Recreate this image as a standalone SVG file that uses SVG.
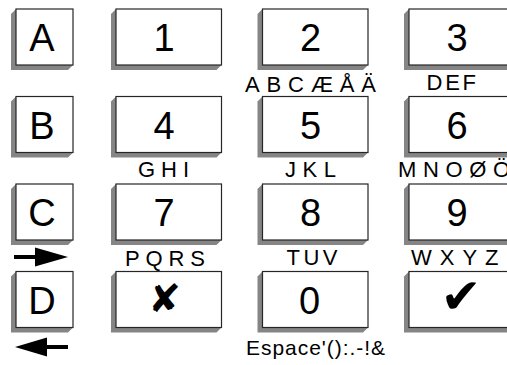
<svg xmlns="http://www.w3.org/2000/svg" width="507" height="365" viewBox="0 0 507 365">
<style>
.sh{fill:#858585}
.bx{fill:#fff;stroke:#262626;stroke-width:1.2}
.k{font-family:"Liberation Sans",Arial,sans-serif;font-size:38px;fill:#000;text-anchor:middle}
.l{font-family:"Liberation Sans",Arial,sans-serif;font-size:22px;fill:#000}
.sym{font-family:"DejaVu Sans",sans-serif;fill:#000;text-anchor:middle}
.ar{fill:#000}
</style>
<rect width="507" height="365" fill="#fff"/>
<g id="key-A"><polygon class="sh" points="16,9 11,14 11,70 68,70 73,65"/><rect class="bx" x="16" y="9" width="57" height="56"/><text class="k" x="42" y="51">A</text></g>
<g id="key-B"><polygon class="sh" points="16,96.5 11,101.5 11,157.5 68,157.5 73,152.5"/><rect class="bx" x="16" y="96.5" width="57" height="56"/><text class="k" x="42" y="138.5">B</text></g>
<g id="key-C"><polygon class="sh" points="16,184 11,189 11,245 68,245 73,240"/><rect class="bx" x="16" y="184" width="57" height="56"/><text class="k" x="42" y="226">C</text></g>
<g id="key-D"><polygon class="sh" points="16,271.5 11,276.5 11,332.5 68,332.5 73,327.5"/><rect class="bx" x="16" y="271.5" width="57" height="56"/><text class="k" x="42" y="313.5">D</text></g>

<g id="key-1"><polygon class="sh" points="116,9 111,14 111,70 216.5,70 221.5,65"/><rect class="bx" x="116" y="9" width="105.5" height="56"/><text class="k" x="164" y="51">1</text></g>
<g id="key-2"><polygon class="sh" points="262.5,9 257.5,14 257.5,70 363,70 368,65"/><rect class="bx" x="262.5" y="9" width="105.5" height="56"/><text class="k" x="310.5" y="51">2</text></g>
<g id="key-3"><polygon class="sh" points="409,9 404,14 404,70 509.5,70 514.5,65"/><rect class="bx" x="409" y="9" width="105.5" height="56"/><text class="k" x="457" y="51">3</text></g>

<g id="key-4"><polygon class="sh" points="116,96.5 111,101.5 111,157.5 216.5,157.5 221.5,152.5"/><rect class="bx" x="116" y="96.5" width="105.5" height="56"/><text class="k" x="164" y="138.5">4</text></g>
<g id="key-5"><polygon class="sh" points="262.5,96.5 257.5,101.5 257.5,157.5 363,157.5 368,152.5"/><rect class="bx" x="262.5" y="96.5" width="105.5" height="56"/><text class="k" x="310.5" y="138.5">5</text></g>
<g id="key-6"><polygon class="sh" points="409,96.5 404,101.5 404,157.5 509.5,157.5 514.5,152.5"/><rect class="bx" x="409" y="96.5" width="105.5" height="56"/><text class="k" x="457" y="138.5">6</text></g>

<g id="key-7"><polygon class="sh" points="116,184 111,189 111,245 216.5,245 221.5,240"/><rect class="bx" x="116" y="184" width="105.5" height="56"/><text class="k" x="164" y="226">7</text></g>
<g id="key-8"><polygon class="sh" points="262.5,184 257.5,189 257.5,245 363,245 368,240"/><rect class="bx" x="262.5" y="184" width="105.5" height="56"/><text class="k" x="310.5" y="226">8</text></g>
<g id="key-9"><polygon class="sh" points="409,184 404,189 404,245 509.5,245 514.5,240"/><rect class="bx" x="409" y="184" width="105.5" height="56"/><text class="k" x="457" y="226">9</text></g>

<g id="key-cancel"><polygon class="sh" points="116,271.5 111,276.5 111,332.5 216.5,332.5 221.5,327.5"/><rect class="bx" x="116" y="271.5" width="105.5" height="56"/><text class="sym" x="164.5" y="311.5" style="font-size:39px">✘</text></g>
<g id="key-0"><polygon class="sh" points="262.5,271.5 257.5,276.5 257.5,332.5 363,332.5 368,327.5"/><rect class="bx" x="262.5" y="271.5" width="105.5" height="56"/><text class="k" x="309.5" y="314">0</text></g>
<g id="key-ok"><polygon class="sh" points="409,271.5 404,276.5 404,332.5 509.5,332.5 514.5,327.5"/><rect class="bx" x="409" y="271.5" width="105.5" height="56"/><text class="sym" x="461" y="313" style="font-size:49px">✔</text></g>

<g id="labels">
<text class="l" x="245" y="91.5" textLength="131" lengthAdjust="spacing">ABCÆÅÄ</text>
<text class="l" x="426.5" y="90" textLength="49.5" lengthAdjust="spacing">DEF</text>
<text class="l" x="138" y="177" textLength="51" lengthAdjust="spacing">GHI</text>
<text class="l" x="285" y="177" textLength="51" lengthAdjust="spacing">JKL</text>
<text class="l" x="398" y="177" textLength="112" lengthAdjust="spacing">MNOØÖ</text>
<text class="l" x="125" y="265.5" textLength="80" lengthAdjust="spacing">PQRS</text>
<text class="l" x="286.5" y="264.5" textLength="51" lengthAdjust="spacing">TUV</text>
<text class="l" x="411" y="264.5" textLength="87.5" lengthAdjust="spacing">WXYZ</text>
<text class="l" x="246" y="354.5" style="font-size:21px" textLength="139" lengthAdjust="spacing">Espace'():.-!&amp;</text>
</g>

<g id="arrows">
<rect class="ar" x="14" y="255" width="22" height="4"/><polygon class="ar" points="35,247.5 68,257 35,266.5"/>
<rect class="ar" x="46" y="345" width="22" height="4"/><polygon class="ar" points="15,347 47,337.5 47,356.5"/>
</g>
</svg>
